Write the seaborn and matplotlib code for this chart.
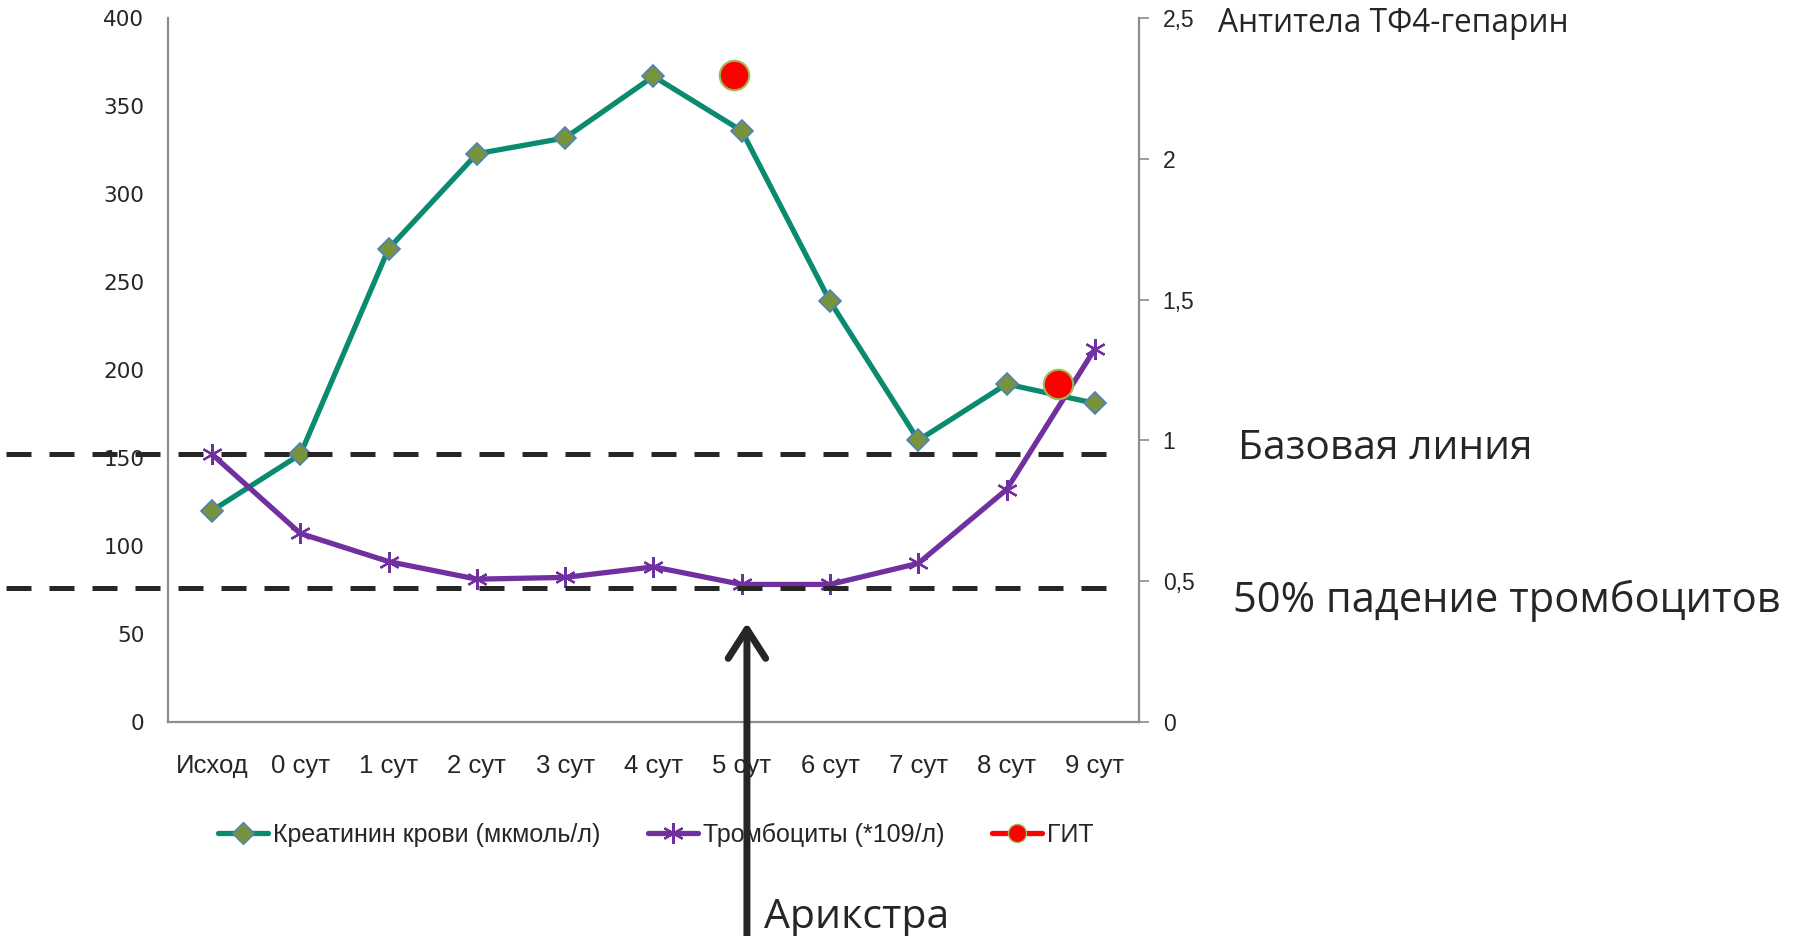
import numpy as np
import pandas as pd
import matplotlib.pyplot as plt
import seaborn as sns
from matplotlib.lines import Line2D
from matplotlib.patches import FancyArrowPatch

# data
days = ['Исход', '0 сут', '1 сут', '2 сут', '3 сут', '4 сут',
        '5 сут', '6 сут', '7 сут', '8 сут', '9 сут']
creatinine = [120, 152, 269, 323, 332, 367, 336, 239, 160, 192, 181]
platelets = [152, 107, 91, 81, 82, 88, 78, 78, 90, 132, 212]
# antibodies (secondary axes, 6 slots in the original workbook)
git_slots = [0, 1, 2, 3, 4, 5]
git_values = [np.nan, np.nan, np.nan, 2.3, np.nan, 1.2]

right_ticks = [0, 0.5, 1, 1.5, 2, 2.5]
right_labels = ['0', '0,5', '1', '1,5', '2', '2,5']

df = pd.DataFrame({'idx': range(len(days)), 'day': days,
                   'creatinine': creatinine, 'platelets': platelets})
git_df = pd.DataFrame({'slot': git_slots, 'git': git_values}).dropna()

sns.set_style('white')
plt.rcParams['font.family'] = ['DejaVu Sans']
narrow = ['Liberation Sans']
big = ['Open Sans', 'DejaVu Sans']

teal = '#0A8A6E'
purple = '#7030A0'
grey = '#8C8C8C'
dark = '#262626'

fig = plt.figure(figsize=(18.02, 9.36), dpi=100)
ax = fig.add_axes([0.0932, 0.2291, 0.5389, 0.7513])

sns.lineplot(data=df, x='idx', y='creatinine', ax=ax, color=teal, lw=3.8,
             marker='D', markersize=11, markerfacecolor='#77933C',
             markeredgecolor='#4F81BD', markeredgewidth=1.2, zorder=3)
sns.lineplot(data=df, x='idx', y='platelets', ax=ax, color=purple, lw=3.8,
             marker=(6, 2, 0), markersize=15, markeredgecolor=purple,
             markeredgewidth=1.6, zorder=4)

ax.set_xlim(-0.5, len(days) - 0.5)
ax.set_ylim(0, 400)
ax.set_yticks(range(0, 401, 50))
ax.set_xticks(df['idx'])
ax.set_xticklabels(days, family=narrow, fontsize=18.5)
ax.tick_params(axis='x', length=0, pad=23)
ax.tick_params(axis='y', length=0, pad=17, labelsize=15.5)
ax.set_xlabel('')
ax.set_ylabel('')
for s in ['top', 'right']:
    ax.spines[s].set_visible(False)
for s in ['left', 'bottom']:
    ax.spines[s].set_color(grey)
    ax.spines[s].set_linewidth(1.6)

# right axis
ax2 = ax.twinx()
ax2.set_ylim(0, 2.5)
ax2.set_yticks(right_ticks)
ax2.set_yticklabels(right_labels, family=narrow, fontsize=16.5)
ax2.tick_params(axis='y', length=7, width=1.2, color=grey, pad=10)
for s in ['top', 'left', 'bottom']:
    ax2.spines[s].set_visible(False)
ax2.spines['right'].set_color(grey)
ax2.spines['right'].set_linewidth(1.6)

# hidden category axis for the antibody points
ax3 = ax2.twiny()
ax3.set_xlim(-0.5, len(git_slots) - 0.5)
ax3.axis('off')
sns.scatterplot(data=git_df, x='slot', y='git', ax=ax3, s=450,
                color='#FF0000', edgecolor='#9BBB59', linewidth=1.5,
                zorder=5, legend=False)

# dashed reference lines (baseline and 50% drop)
base = platelets[0]
trans = ax.get_yaxis_transform()
for yv in [base, base / 2]:
    ax.plot([-0.167, 0.98], [yv, yv], transform=trans, color=dark,
            lw=3.6, ls=(0, (5.0, 3.6)), clip_on=False, zorder=6)

fig.text(0.676, 0.975, 'Антитела ТФ4-гепарин', family=big, fontsize=22.8,
         va='center', color=dark)
fig.text(0.687, 0.521, 'Базовая линия', family=big, fontsize=29.3,
         va='center', color=dark)
fig.text(0.684, 0.358, '50% падение тромбоцитов', family=big, fontsize=30,
         va='center', color=dark)

# arrow
fig.patches.append(FancyArrowPatch(
    (0.4145, -0.01), (0.4145, 0.3376), transform=fig.transFigure,
    arrowstyle='->,head_length=0.7,head_width=0.45', mutation_scale=30,
    color=dark, lw=5, zorder=10, capstyle='round', joinstyle='round'))
fig.text(0.424, 0.020, 'Арикстра', family=big, fontsize=29.5,
         va='center', color=dark)

handles = [
    Line2D([], [], color=teal, lw=3.8, marker='D', markersize=11,
           markerfacecolor='#77933C', markeredgecolor='#4F81BD'),
    Line2D([], [], color=purple, lw=3.8, marker=(6, 2, 0), markersize=15,
           markeredgecolor=purple, markeredgewidth=1.6),
    Line2D([], [], color='#FF0000', lw=3.8, marker='o', markersize=13,
           markerfacecolor='#FF0000', markeredgecolor='#9BBB59'),
]
labels = ['Креатинин крови (мкмоль/л)', 'Тромбоциты (*109/л)', 'ГИТ']
fig.legend(handles, labels, loc='center', bbox_to_anchor=(0.364, 0.108),
           ncol=3, frameon=False, prop={'family': narrow, 'size': 18},
           handlelength=2.0, handletextpad=0.2, columnspacing=1.9)

fig.savefig('out.png', dpi=100)
